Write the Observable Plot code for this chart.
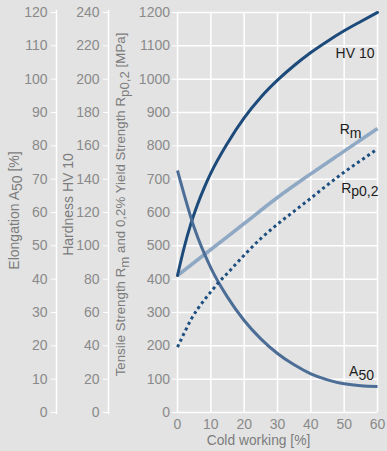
<!DOCTYPE html>
<html>
<head>
<meta charset="utf-8">
<script src="https://cdn.jsdelivr.net/npm/d3@7"></script>
<script src="https://cdn.jsdelivr.net/npm/@observablehq/plot@0.6"></script>
<style>
  html, body { margin: 0; padding: 0; background: #e3e3e3; }
  #chart svg { display: block; }
</style>
</head>
<body>
<div id="chart"></div>
<script>
// ---- data ----
const coldWorkingHV = [0, 2, 4, 6, 8, 10, 15, 20, 25, 30, 35, 40, 45, 50, 55, 60];
const hardnessHV10 = [82.2, 99, 113.2, 124.8, 134.8, 143.6, 161.6, 176.8, 189.2, 199.4, 208.2, 216, 222.8, 229, 234.6, 240];

const coldWorkingRm = [0, 10, 20, 30, 40, 50, 60];
const tensileRm = [411, 489, 567, 645, 716, 784, 852];

const coldWorkingRp = [0, 2, 4, 6, 8, 10, 12.5, 15, 20, 25, 30, 35, 40, 45, 50, 55, 60];
const yieldRp02 = [196, 238, 278, 310, 337, 362, 392, 418, 472, 522, 565, 604, 643, 683, 721, 756, 791];

const coldWorkingA50 = [0, 5, 10, 15, 20, 25, 30, 35, 40, 45, 50, 55, 60];
const elongationA50 = [72.6, 55.5, 43.4, 34.6, 27.6, 22.1, 17.7, 14.3, 11.6, 9.8, 8.6, 8.0, 7.8];

const xTicks = [0, 10, 20, 30, 40, 50, 60];
const strengthTicks = [0, 100, 200, 300, 400, 500, 600, 700, 800, 900, 1000, 1100, 1200];
const hardnessTicks = [0, 20, 40, 60, 80, 100, 120, 140, 160, 180, 200, 220, 240];
const elongationTicks = [0, 10, 20, 30, 40, 50, 60, 70, 80, 90, 100, 110, 120];

const xLabel = "Cold working [%]";
const elongationLabel = "Elongation A_{50} [%]";
const hardnessLabel = "Hardness HV 10";
const strengthLabel = "Tensile Strength R_{m} and 0,2% Yield Strength R_{p0,2} [MPa]";
const seriesLabels = { hv: "HV 10", rm: "R_{m}", rp: "R_{p0,2}", a50: "A_{50}" };

// scale factors between the shared strength axis and the other two axes
const hvFactor = 1200 / 240;   // MPa per HV
const aFactor = 1200 / 120;    // MPa per %

const hvData = coldWorkingHV.map((x, i) => ({x, y: hardnessHV10[i] * hvFactor}));
const rmData = coldWorkingRm.map((x, i) => ({x, y: tensileRm[i]}));
const rpData = coldWorkingRp.map((x, i) => ({x, y: yieldRp02[i]}));
const a50Data = coldWorkingA50.map((x, i) => ({x, y: elongationA50[i] * aFactor}));

const tickColor = "#8a8a8a";
const titleColor = "#7c7c7c";
const labelColor = "#1c1c1c";

const chart = Plot.plot({
  width: 387,
  height: 451,
  marginLeft: 177,
  marginRight: 10,
  marginTop: 12,
  marginBottom: 39,
  style: {background: "#e3e3e3", fontFamily: "'Liberation Sans', Arial, sans-serif", fontSize: "14px", overflow: "visible"},
  x: {domain: [0, 60]},
  y: {domain: [0, 1200]},
  marks: [
    Plot.gridX(xTicks, {stroke: "white", strokeOpacity: 1, strokeWidth: 1.5}),
    Plot.gridY(strengthTicks, {stroke: "white", strokeOpacity: 1, strokeWidth: 1.5}),
    // vertical lines of the two extra left axes
    Plot.ruleX([0], {dx: -121, stroke: "white", strokeWidth: 1.5, insetTop: -2, insetBottom: -2}),
    Plot.ruleX([0], {dx: -69, stroke: "white", strokeWidth: 1.5, insetTop: -2, insetBottom: -2}),
    // elongation axis
    Plot.axisY(elongationTicks.map(v => v * aFactor), {anchor: "left", dx: -121, tickSize: 5, tickPadding: 4,
      tickFormat: d => String(d / aFactor), stroke: "white", fill: tickColor, label: null, fontSize: 14}),
    // hardness axis
    Plot.axisY(hardnessTicks.map(v => v * hvFactor), {anchor: "left", dx: -69, tickSize: 5, tickPadding: 4,
      tickFormat: d => String(d / hvFactor), stroke: "white", fill: tickColor, label: null, fontSize: 14}),
    // strength axis
    Plot.axisY(strengthTicks, {anchor: "left", tickSize: 5, tickPadding: 2.5,
      tickFormat: d => String(d), stroke: "white", fill: tickColor, label: null, fontSize: 14}),
    Plot.axisX(xTicks, {tickSize: 0, tickPadding: 6.5, fill: tickColor, label: null, fontSize: 14}),
    // axis titles
    Plot.text([elongationLabel], {frameAnchor: "left", textAnchor: "middle", lineAnchor: "middle", dx: -163, dy: -2, rotate: -90, text: d => d, fill: titleColor, fontSize: 14}),
    Plot.text([hardnessLabel], {frameAnchor: "left", textAnchor: "middle", lineAnchor: "middle", dx: -109, dy: -8, rotate: -90, text: d => d, fill: titleColor, fontSize: 14}),
    Plot.text([strengthLabel], {frameAnchor: "left", textAnchor: "middle", lineAnchor: "middle", dx: -56.5, dy: -8, rotate: -90, text: d => d, fill: titleColor, fontSize: 13.3}),
    Plot.text([xLabel], {frameAnchor: "bottom", textAnchor: "middle", lineAnchor: "bottom", dx: -19, dy: 32, text: d => d, fill: titleColor, fontSize: 13.8}),
    // series
    Plot.line(rmData, {x: "x", y: "y", stroke: "#8fa8c4", strokeWidth: 3.5, curve: "monotone-x", strokeLinecap: "butt"}),
    Plot.line(hvData, {x: "x", y: "y", stroke: "#1c4a7a", strokeWidth: 3, curve: "monotone-x"}),
    Plot.line(a50Data, {x: "x", y: "y", stroke: "#4b6d96", strokeWidth: 3, curve: "monotone-x", strokeLinecap: "butt"}),
    Plot.line(rpData, {x: "x", y: "y", stroke: "#1d4e80", strokeWidth: 3, curve: "monotone-x", strokeLinecap: "butt", strokeDasharray: "3,3.2"}),
    // series labels anchored at each series' last point
    Plot.text([hvData.at(-1)], {x: "x", y: "y", text: () => seriesLabels.hv, textAnchor: "end", lineAnchor: "bottom", dx: -3, dy: 45, fill: labelColor, fontSize: 14}),
    Plot.text([rmData.at(-1)], {x: "x", y: "y", text: () => seriesLabels.rm, textAnchor: "end", lineAnchor: "bottom", dx: -16, dy: 5.5, fill: labelColor, fontSize: 14}),
    Plot.text([rpData.at(-1)], {x: "x", y: "y", text: () => seriesLabels.rp, textAnchor: "end", lineAnchor: "bottom", dx: 1, dy: 44, fill: labelColor, fontSize: 14}),
    Plot.text([a50Data.at(-1)], {x: "x", y: "y", text: () => seriesLabels.a50, textAnchor: "end", lineAnchor: "bottom", dx: -3.5, dy: -10.5, fill: labelColor, fontSize: 14})
  ]
});

// turn "_{...}" markers into real subscript tspans
d3.select(chart).selectAll("text").each(function() {
  const t = this.textContent;
  if (!t || t.indexOf("_{") < 0) return;
  const parts = t.split(/_\{([^}]*)\}/);
  const sel = d3.select(this);
  sel.text(null);
  let shifted = false;
  parts.forEach((p, i) => {
    if (p === "") { return; }
    const sub = i % 2 === 1;
    const ts = sel.append("tspan").text(p);
    if (sub && !shifted) { ts.attr("dy", "0.25em"); shifted = true; }
    else if (!sub && shifted) { ts.attr("dy", "-0.25em"); shifted = false; }
  });
});

document.getElementById("chart").appendChild(chart);
</script>
</body>
</html>
